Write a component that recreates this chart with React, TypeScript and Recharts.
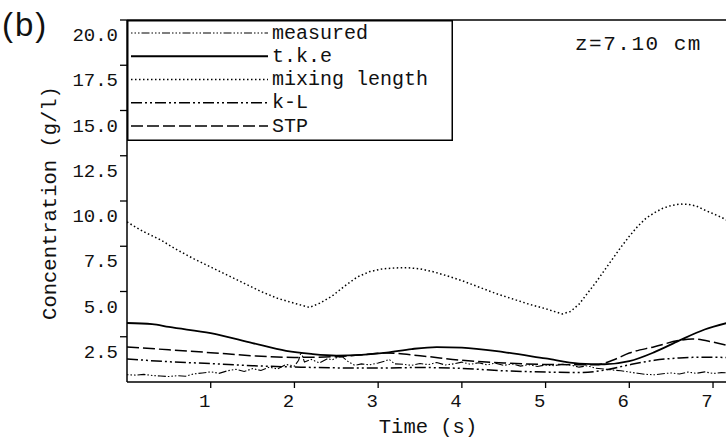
import React from 'react';
import { LineChart, Line, XAxis, YAxis, ReferenceLine, Legend } from 'recharts';

const FONT = '"Liberation Mono", "DejaVu Sans Mono", monospace';

// ---- tick values ----
const timeTicks = [1, 2, 3, 4, 5, 6, 7];
const concTicks = [2.5, 5, 7.5, 10, 12.5, 15, 17.5, 20];

// ---- series values: [time (s), concentration (g/l)] ----
const measured: [number, number][] = [
  [0.0, 0.4], [0.1, 0.38], [0.2, 0.42], [0.3, 0.36], [0.4, 0.33], [0.5, 0.3], [0.6, 0.35],
  [0.7, 0.32], [0.8, 0.45], [0.9, 0.5], [1.0, 0.56], [1.1, 0.48], [1.2, 0.62], [1.3, 0.7],
  [1.4, 0.58], [1.5, 0.74], [1.6, 0.64], [1.7, 0.82], [1.8, 0.72], [1.9, 0.97], [2.0, 0.88],
  [2.05, 1.2], [2.08, 1.66], [2.12, 1.1], [2.2, 1.25], [2.3, 1.05], [2.4, 1.3], [2.45, 1.22],
  [2.52, 1.38], [2.57, 1.4], [2.65, 1.1], [2.72, 0.92], [2.8, 1.0], [2.9, 0.95], [3.0, 1.05],
  [3.08, 1.15], [3.13, 1.25], [3.2, 1.0], [3.3, 0.98], [3.4, 0.92], [3.5, 1.02], [3.6, 0.96],
  [3.7, 1.08], [3.8, 0.94], [3.9, 1.0], [4.0, 1.1], [4.1, 0.98], [4.2, 1.06], [4.3, 0.95],
  [4.4, 1.04], [4.5, 0.92], [4.6, 1.0], [4.7, 0.88], [4.8, 0.96], [4.9, 0.86], [5.0, 0.94],
  [5.1, 0.9], [5.2, 0.98], [5.3, 0.94], [5.4, 0.82], [5.5, 0.9], [5.6, 0.76], [5.7, 0.72],
  [5.8, 0.66], [5.9, 0.62], [6.0, 0.55], [6.1, 0.48], [6.2, 0.42], [6.3, 0.4], [6.4, 0.46],
  [6.5, 0.5], [6.6, 0.44], [6.7, 0.55], [6.8, 0.48], [6.9, 0.56], [7.0, 0.47], [7.1, 0.52],
  [7.2, 0.5],
];

const tke: [number, number][] = [
  [0.0, 3.26], [0.3, 3.2], [0.5, 3.04], [1.0, 2.7], [1.5, 2.15], [1.9, 1.72], [2.2, 1.55],
  [2.5, 1.46], [2.8, 1.5], [3.1, 1.62], [3.4, 1.82], [3.7, 1.93], [4.0, 1.9], [4.5, 1.65],
  [5.0, 1.3], [5.4, 1.02], [5.7, 0.98], [6.0, 1.15], [6.3, 1.65], [6.6, 2.3], [6.9, 2.9],
  [7.2, 3.3],
];

const mixingLength: [number, number][] = [
  [0.0, 8.84], [0.2, 8.3], [0.4, 7.85], [0.6, 7.3], [0.8, 6.8], [1.0, 6.35], [1.2, 5.9],
  [1.4, 5.45], [1.6, 5.0], [1.8, 4.62], [2.0, 4.35], [2.1, 4.22], [2.18, 4.12], [2.3, 4.35],
  [2.45, 4.75], [2.6, 5.3], [2.75, 5.8], [2.9, 6.1], [3.05, 6.25], [3.2, 6.3], [3.35, 6.32],
  [3.5, 6.25], [3.65, 6.1], [3.8, 5.9], [4.0, 5.6], [4.2, 5.25], [4.4, 4.9], [4.6, 4.6],
  [4.8, 4.3], [5.0, 4.05], [5.1, 3.9], [5.2, 3.76], [5.3, 3.9], [5.4, 4.3], [5.5, 4.9],
  [5.6, 5.5], [5.7, 6.15], [5.8, 6.8], [5.9, 7.45], [6.0, 8.05], [6.1, 8.6], [6.2, 9.05],
  [6.3, 9.35], [6.4, 9.6], [6.5, 9.75], [6.6, 9.83], [6.7, 9.82], [6.8, 9.72], [6.9, 9.5],
  [7.0, 9.3], [7.1, 9.1], [7.2, 8.85],
];

const kL: [number, number][] = [
  [0.0, 1.27], [0.5, 1.12], [1.0, 1.02], [1.5, 0.9], [2.0, 0.83], [2.5, 0.78], [3.0, 0.77],
  [3.5, 0.8], [4.0, 0.75], [4.5, 0.62], [5.0, 0.55], [5.4, 0.52], [5.7, 0.65], [6.0, 0.95],
  [6.3, 1.2], [6.6, 1.33], [6.9, 1.37], [7.2, 1.35],
];

const stp: [number, number][] = [
  [0.0, 1.93], [0.5, 1.78], [1.0, 1.62], [1.5, 1.45], [2.0, 1.36], [2.5, 1.4], [2.8, 1.5],
  [3.1, 1.6], [3.5, 1.45], [4.0, 1.2], [4.5, 1.05], [5.0, 0.97], [5.6, 0.95], [5.8, 1.2],
  [6.0, 1.6], [6.3, 1.95], [6.6, 2.3], [6.75, 2.38], [7.0, 2.2], [7.2, 1.98],
];

const seriesNames = ['measured', 't.k.e', 'mixing length', 'k-L', 'STP'];
const seriesValues = [measured, tke, mixingLength, kL, stp];

const styles = [
  { width: 1.1, dash: '1.5 2 1.5 2 1.5 2 8 2', type: 'linear' },
  { width: 1.8, dash: undefined, type: 'monotone' },
  { width: 1.5, dash: '1.5 2.5', type: 'linear' },
  { width: 1.5, dash: '11 3 2 3 2 3', type: 'monotone' },
  { width: 1.5, dash: '12 4', type: 'monotone' },
];

const series = seriesNames.map((name, i) => ({
  name,
  data: seriesValues[i].map(([t, c]) => ({ t, c })),
  ...styles[i],
}));

const XTick = (p: any) => (
  <text x={p.x - 6} y={p.y + 17} textAnchor="middle" fontFamily={FONT} fontSize={19} fill="#111">
    {p.payload.value}
  </text>
);

const YTick = (p: any) => (
  <text x={p.x} y={p.y + 21} textAnchor="end" fontFamily={FONT} fontSize={19} fill="#111">
    {Number(p.payload.value).toFixed(1)}
  </text>
);

const XLabel = () => (
  <text x={428} y={433} textAnchor="middle" fontFamily={FONT} fontSize={20.5} fill="#111">
    Time (s)
  </text>
);

const YLabel = () => (
  <text
    x={50}
    y={203}
    textAnchor="middle"
    dominantBaseline="central"
    transform="rotate(-90, 50, 203)"
    fontFamily={FONT}
    fontSize={20.5}
    fill="#111"
  >
    Concentration (g/l)
  </text>
);

const Overlay = () => (
  <svg width={726} height={443} style={{ display: 'block', pointerEvents: 'none' }}>
    <text x={2} y={36} fontFamily='"Liberation Sans", Arial, sans-serif' fontSize={33} letterSpacing={2} fill="#111">
      (b)
    </text>
    <text x={575} y={50} fontFamily={FONT} fontSize={21} letterSpacing={1.5} fill="#111">
      z=7.10 cm
    </text>
    <g transform="translate(127,20)">
      <rect x={0.75} y={0.75} width={324.5} height={119.5} fill="white" stroke="#000" strokeWidth={1.5} />
      {series.map((s, i) => {
        const y = 13 + i * 23.25;
        return (
          <g key={s.name}>
            <line x1={4} x2={141} y1={y} y2={y} stroke="#000" strokeWidth={s.width} strokeDasharray={s.dash} />
            <text x={145} y={y} dominantBaseline="central" fontFamily={FONT} fontSize={20} fill="#111">
              {s.name}
            </text>
          </g>
        );
      })}
    </g>
  </svg>
);

export default function App() {
  return (
    <div style={{ position: 'absolute', left: 0, top: 0, width: 726, height: 443, background: '#fff' }}>
      <LineChart width={726} height={443} margin={{ top: 20, right: 0, bottom: 0, left: 0 }}>
        <XAxis
          type="number"
          dataKey="t"
          domain={[0, 7.155]}
          allowDataOverflow
          ticks={timeTicks}
          height={61}
          tickSize={6}
          axisLine={{ stroke: '#000', strokeWidth: 1.5 }}
          tickLine={{ stroke: '#000', strokeWidth: 1.3 }}
          tick={<XTick />}
          label={<XLabel />}
        />
        <YAxis
          type="number"
          domain={[0, 20]}
          allowDataOverflow
          ticks={concTicks}
          width={127}
          tickSize={7}
          axisLine={{ stroke: '#000', strokeWidth: 1.5 }}
          tickLine={{ stroke: '#000', strokeWidth: 1.3 }}
          tick={<YTick />}
          label={<YLabel />}
        />
        <ReferenceLine y={20} stroke="#000" strokeWidth={1.5} />
        {series.map((s) => (
          <Line
            key={s.name}
            data={s.data}
            dataKey="c"
            name={s.name}
            type={s.type as any}
            stroke="#000"
            strokeWidth={s.width}
            strokeDasharray={s.dash}
            dot={false}
            activeDot={false}
            isAnimationActive={false}
          />
        ))}
        <Legend
          layout="horizontal"
          verticalAlign="middle"
          align="center"
          content={() => <Overlay />}
          wrapperStyle={{ position: 'absolute', left: 0, top: 0, width: 726, height: 443, margin: 0, padding: 0, pointerEvents: 'none' }}
        />
      </LineChart>
    </div>
  );
}
